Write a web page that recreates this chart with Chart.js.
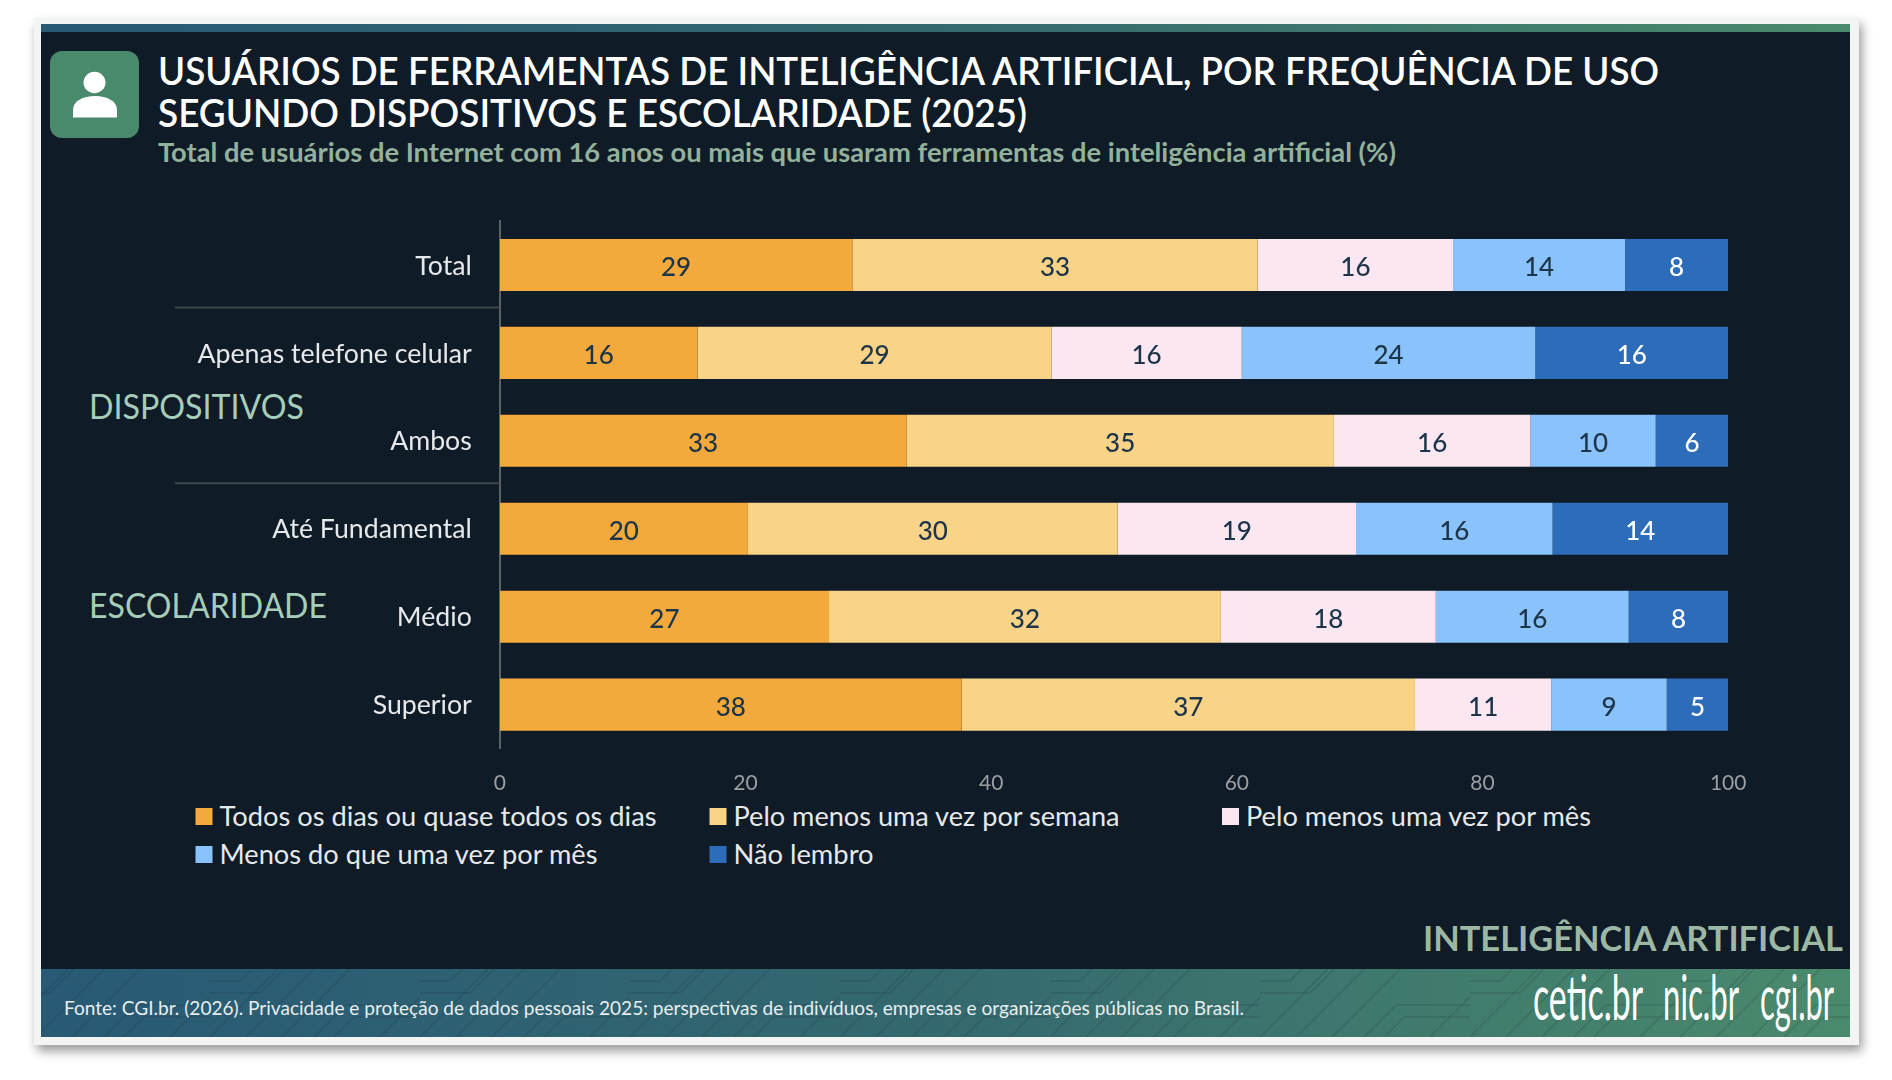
<!DOCTYPE html>
<html lang="pt-BR">
<head>
<meta charset="utf-8">
<title>Usuários de ferramentas de inteligência artificial</title>
<script src="https://cdn.jsdelivr.net/npm/chart.js@4"></script>
<style>
  html, body { margin: 0; padding: 0; background: #fff; overflow: hidden; }
  #stage { position: relative; width: 1892px; height: 1080px; filter: blur(0.5px); }
  #card { position: absolute; left: 34px; top: 18px; width: 1825px; height: 1027px; background: #f2f5f4;
          box-shadow: 3px 6px 10px rgba(0,0,0,.4); }
  #art, #chart { position: absolute; left: 0; top: 0; }
  text { font-family: Lato, "Open Sans", sans-serif; }
</style>
</head>
<body>
<div id="stage">
  <div id="card"></div>
  <svg id="art" width="1892" height="1080" xmlns="http://www.w3.org/2000/svg">
    <defs>
      <linearGradient id="band" x1="0" x2="1" y1="0" y2="0">
        <stop offset="0" stop-color="#285a75"/>
        <stop offset="0.5" stop-color="#34696f"/>
        <stop offset="1" stop-color="#4a8a6c"/>
      </linearGradient>
      <pattern id="lines" width="210" height="68" patternUnits="userSpaceOnUse" y="969">
        <g fill="none" stroke="#0f1b26" stroke-opacity="0.16" stroke-width="1.5">
          <path d="M0 68 L68 0 M36 68 L104 0 M72 68 L140 0"/>
          <path d="M104 68 L136 36 H210 M124 68 L144 48 H210"/>
          <path d="M0 24 H50 L74 0 M0 12 H30 L42 0"/>
          <path d="M170 68 L210 28"/>
        </g>
      </pattern>
    </defs>
    <rect x="41" y="24" width="1809" height="1013" fill="#0f1b26"/>
    <rect x="41" y="24" width="1809" height="8" fill="url(#band)"/>
    <rect x="41" y="969" width="1809" height="68" fill="url(#band)"/>
    <rect x="41" y="969" width="1809" height="68" fill="url(#lines)"/>

    <rect x="50" y="51" width="89" height="87" rx="12" fill="#4a8a6c"/>
    <ellipse cx="94.5" cy="82.5" rx="11" ry="10.7" fill="#fff"/>
    <path d="M73 117.5 V110 C73 101 83 96 95 96 C107 96 117 101 117 110 V117.5 Z" fill="#fff"/>

    <text x="158" y="85" font-size="38" font-weight="600" fill="#ffffff" textLength="1501" lengthAdjust="spacingAndGlyphs">USUÁRIOS DE FERRAMENTAS DE INTELIGÊNCIA ARTIFICIAL, POR FREQUÊNCIA DE USO</text>
    <text x="158" y="127" font-size="38" font-weight="600" fill="#ffffff" textLength="869" lengthAdjust="spacingAndGlyphs">SEGUNDO DISPOSITIVOS E ESCOLARIDADE (2025)</text>
    <text x="158" y="162" font-size="26" font-weight="700" fill="#93b19b" textLength="1238" lengthAdjust="spacingAndGlyphs">Total de usuários de Internet com 16 anos ou mais que usaram ferramentas de inteligência artificial (%)</text>

    <text x="89" y="419" font-size="34" fill="#a6cdb9" textLength="215" lengthAdjust="spacingAndGlyphs">DISPOSITIVOS</text>
    <text x="89" y="618" font-size="34" fill="#a6cdb9" textLength="238" lengthAdjust="spacingAndGlyphs">ESCOLARIDADE</text>

    <g id="legend"></g>

    <text x="1423" y="951" font-size="35" font-weight="700" fill="#9cb8a5" textLength="420" lengthAdjust="spacingAndGlyphs">INTELIGÊNCIA ARTIFICIAL</text>
    <text x="64" y="1015" font-size="19" fill="#e8eef0" textLength="1180" lengthAdjust="spacingAndGlyphs">Fonte: CGI.br. (2026). Privacidade e proteção de dados pessoais 2025: perspectivas de indivíduos, empresas e organizações públicas no Brasil.</text>
    <text x="1533" y="1020" font-size="62" fill="#ffffff" textLength="110" lengthAdjust="spacingAndGlyphs">cetic.br</text>
    <text x="1663" y="1020" font-size="62" fill="#ffffff" textLength="76" lengthAdjust="spacingAndGlyphs">nic.br</text>
    <text x="1760" y="1020" font-size="62" fill="#ffffff" textLength="74" lengthAdjust="spacingAndGlyphs">cgi.br</text>
  </svg>
  <canvas id="chart" width="1892" height="1080" style="width:1892px;height:1080px"></canvas>
</div>

<script>
const categories = ['Total', 'Apenas telefone celular', 'Ambos', 'Até Fundamental', 'Médio', 'Superior'];
const seriesNames = [
    'Todos os dias ou quase todos os dias',
    'Pelo menos uma vez por semana',
    'Pelo menos uma vez por mês',
    'Menos do que uma vez por mês',
    'Não lembro'
];
const todosOsDias = [28.7, 16.1, 33.1, 20.2, 26.8, 37.6];
const porSemana = [33.0, 28.8, 34.8, 30.1, 31.9, 36.9];
const porMes = [15.9, 15.5, 16.0, 19.4, 17.5, 11.1];
const menosDeUma = [14.0, 23.9, 10.2, 16.0, 15.7, 9.4];
const naoLembro = [8.4, 15.7, 5.9, 14.3, 8.1, 5.0];

const seriesValues = [todosOsDias, porSemana, porMes, menosDeUma, naoLembro];
const seriesColors = ['#f3a93b', '#f9d387', '#fbe7f2', '#8ac2fb', '#2d6cb9'];
const labelColors = ['#1c3549', '#1c3549', '#1c3549', '#1c3549', '#ffffff'];

// legenda em 3 colunas, feita a partir das series
const legendX = [195.5, 709.5, 1222];
const legendY = [808, 846];
const legendWidths = [437, 386, 345, 378, 140];
const NS = 'http://www.w3.org/2000/svg';
const legendGroup = document.getElementById('legend');
seriesNames.forEach((name, i) => {
    const x = legendX[i % 3];
    const y = legendY[Math.floor(i / 3)];
    const box = document.createElementNS(NS, 'rect');
    box.setAttribute('x', x);
    box.setAttribute('y', y);
    box.setAttribute('width', 17);
    box.setAttribute('height', 17);
    box.setAttribute('fill', seriesColors[i]);
    legendGroup.appendChild(box);
    const label = document.createElementNS(NS, 'text');
    label.setAttribute('x', x + 24);
    label.setAttribute('y', y + 18);
    label.setAttribute('font-size', 26);
    label.setAttribute('fill', '#e6e9ec');
    label.setAttribute('textLength', legendWidths[i]);
    label.setAttribute('lengthAdjust', 'spacingAndGlyphs');
    label.textContent = name;
    legendGroup.appendChild(label);
});

// numeros dentro das barras + linhas que separam os grupos
const extras = {
    id: 'extras',
    afterDatasetsDraw(chart) {
        const ctx = chart.ctx;
        ctx.save();
        ctx.font = '500 26px Lato, "Open Sans", sans-serif';
        ctx.textAlign = 'center';
        ctx.textBaseline = 'middle';
        chart.data.datasets.forEach((ds, d) => {
            ctx.fillStyle = labelColors[d];
            chart.getDatasetMeta(d).data.forEach((bar, i) => {
                const c = bar.getCenterPoint();
                ctx.fillText(Math.round(ds.data[i]), c.x, c.y + 3);
            });
        });
        ctx.strokeStyle = '#3e474d';
        ctx.lineWidth = 2;
        [0.5, 2.5].forEach(v => {
            const y = chart.scales.y.getPixelForValue(v) - 1.5;
            ctx.beginPath();
            ctx.moveTo(175, y);
            ctx.lineTo(chart.chartArea.left, y);
            ctx.stroke();
        });
        ctx.restore();
    }
};

new Chart(document.getElementById('chart').getContext('2d'), {
    type: 'bar',
    data: {
        labels: categories,
        datasets: seriesValues.map((values, i) => ({
            label: seriesNames[i],
            data: values,
            backgroundColor: seriesColors[i],
            borderWidth: 0,
            barPercentage: 0.592,
            categoryPercentage: 1
        }))
    },
    options: {
        indexAxis: 'y',
        responsive: false,
        animation: false,
        layout: { padding: { left: 0, top: 221, right: 163.8, bottom: 271.4 } },
        plugins: { legend: { display: false }, tooltip: { enabled: false } },
        scales: {
            x: {
                stacked: true,
                min: 0,
                max: 100,
                afterFit: s => { s.height = 60; },
                grid: { display: false },
                border: { display: false },
                ticks: { stepSize: 20, padding: 14, color: '#9a9fa3', font: { family: 'Lato', size: 21 }, maxRotation: 0 }
            },
            y: {
                stacked: true,
                afterFit: s => { s.width = 499.8; },
                grid: { display: false },
                border: { display: true, color: '#5a6268', width: 2 },
                ticks: { padding: 20, labelOffset: 1, color: '#e6e9ec', font: { family: 'Lato', size: 26.7 } }
            }
        }
    },
    plugins: [extras]
});
</script>
</body>
</html>
